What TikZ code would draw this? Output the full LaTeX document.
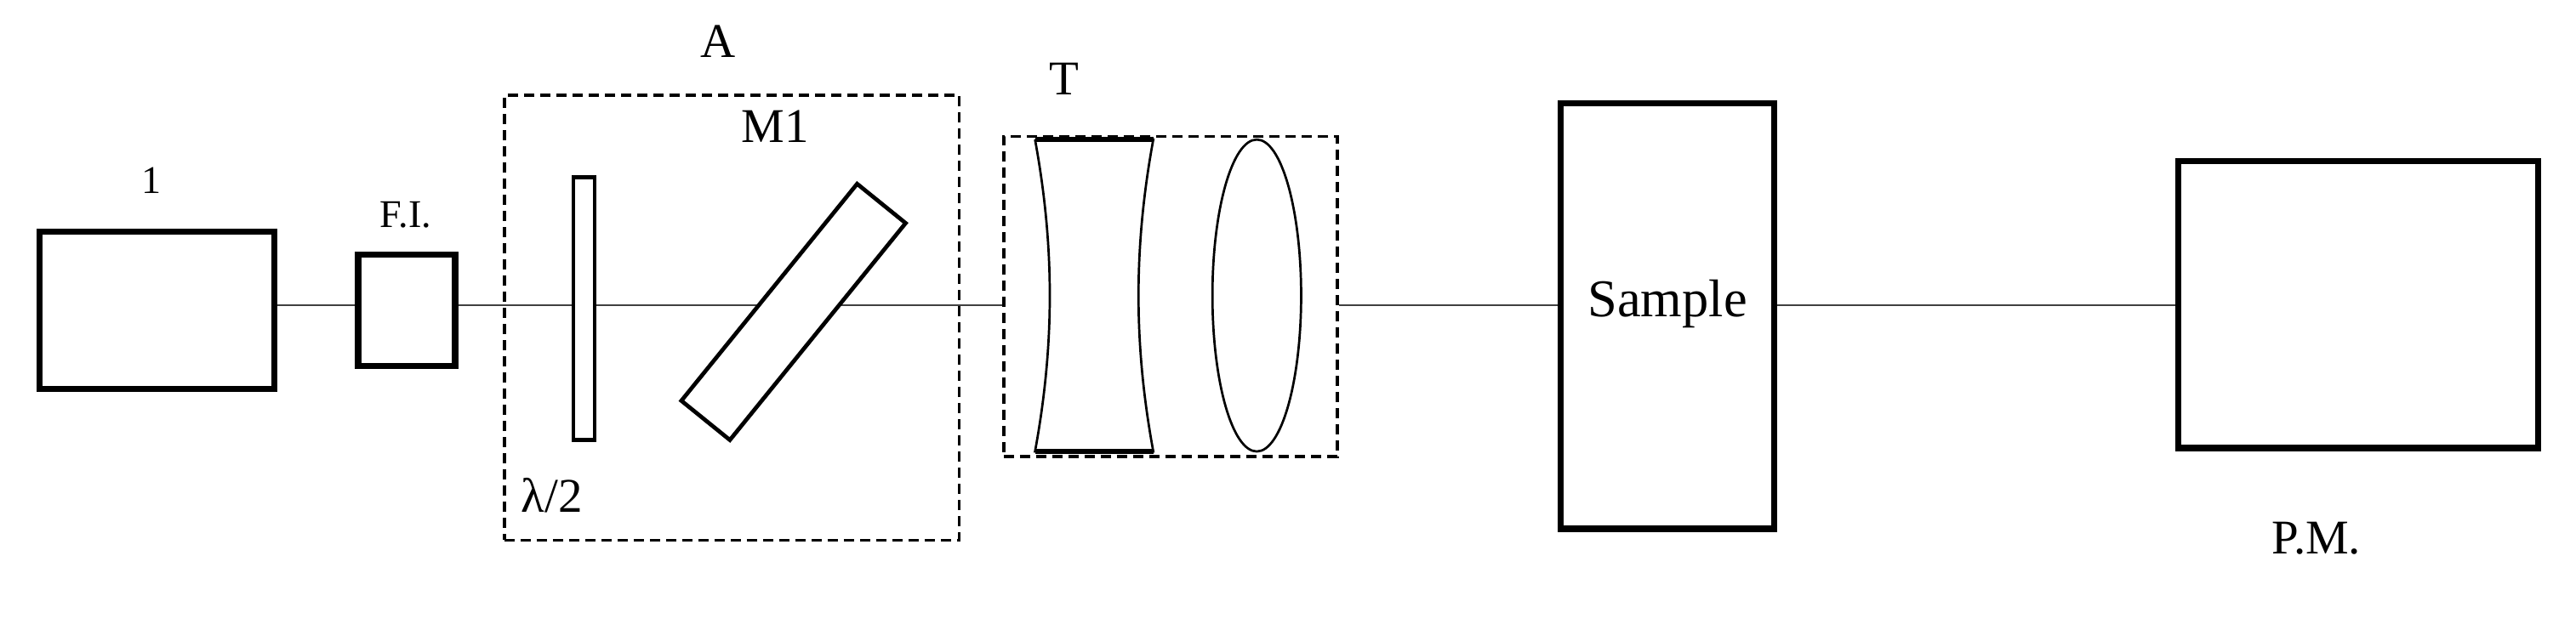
\documentclass[tikz,border=0pt]{standalone}
\usepackage{fontspec}
\setmainfont{Liberation Serif}
\begin{document}
\begin{tikzpicture}[x=0.05cm,y=-0.05cm,
  box/.style={draw,fill=white,line width=5.5pt,inner sep=0pt},
  thin box/.style={draw,fill=white,line width=3.5pt,inner sep=0pt},
  group/.style={draw,line width=2.5pt,dash pattern=on 9pt off 5pt},
  beam/.style={line width=1.5pt,draw=black!75},
  lab/.style={font=\fontsize{34}{38}\selectfont}]
\useasboundingbox (0,0) rectangle (1568,380);
\coordinate (bm) at (0,186);
\node[box,minimum width=7.15cm,minimum height=4.8cm] (laser) at (95.5,189) {};
\node[box,minimum width=2.95cm,minimum height=3.4cm] (fi) at (247.5,189) {};
\node[group,minimum width=10.15cm,minimum height=9.75cm,inner sep=0pt] (tel) at (712.5,180.5) {};
\node[box,minimum width=6.5cm,minimum height=12.95cm] (sample) at (1015,192.5) {};
\node[box,minimum width=10.95cm,minimum height=8.75cm] (pm) at (1435.5,185.5) {};
\draw[beam] (laser.east|-bm) -- (fi.west|-bm);
\draw[beam] (fi.east|-bm) -- (tel.west|-bm);
\draw[beam] (tel.east|-bm) -- (sample.west|-bm);
\draw[beam] (sample.east|-bm) -- (pm.west|-bm);
% group A
\node[group,minimum width=13.85cm,minimum height=13.55cm,inner sep=0pt] (grpA) at (445.5,193.5) {};
\node[thin box,minimum width=0.65cm,minimum height=8cm] (plate) at (355.5,188) {};
\node[thin box,minimum width=8.5cm,minimum height=1.9cm,rotate=51] (m1) at (483,190) {};
% lenses
\draw[line width=2pt,fill=white] (630,85) -- (702,85) .. controls (690,150) and (690,210) .. (702,275) -- (630,275) .. controls (642,210) and (642,150) .. (630,85);
\draw[line width=4pt] (630,85) -- (702,85) (630,275) -- (702,275);
\draw[line width=2pt,fill=white] (765,180) ellipse [x radius=1.35cm,y radius=4.75cm];
% labels
\node[lab] (l1) at (92,110) {1};
\node[lab] (lfi) at (247,131) {F.I.};
\node[lab,font=\fontsize{42}{46}\selectfont] (lA) at (437,25) {A};
\node[lab,font=\fontsize{42}{46}\selectfont] (lM) at (472,77) {M1};
\node[lab,font=\fontsize{42}{46}\selectfont] (lT) at (648,48) {T};
\node[lab,font=\fontsize{42}{46}\selectfont] (lhw) at (336,302) {λ/2};
\node[lab,font=\fontsize{46}{50}\selectfont] (ls) at (1015,185) {Sample};
\node[lab,font=\fontsize{42}{46}\selectfont] (lpm) at (1410,328) {P.M.};
\end{tikzpicture}
\end{document}
